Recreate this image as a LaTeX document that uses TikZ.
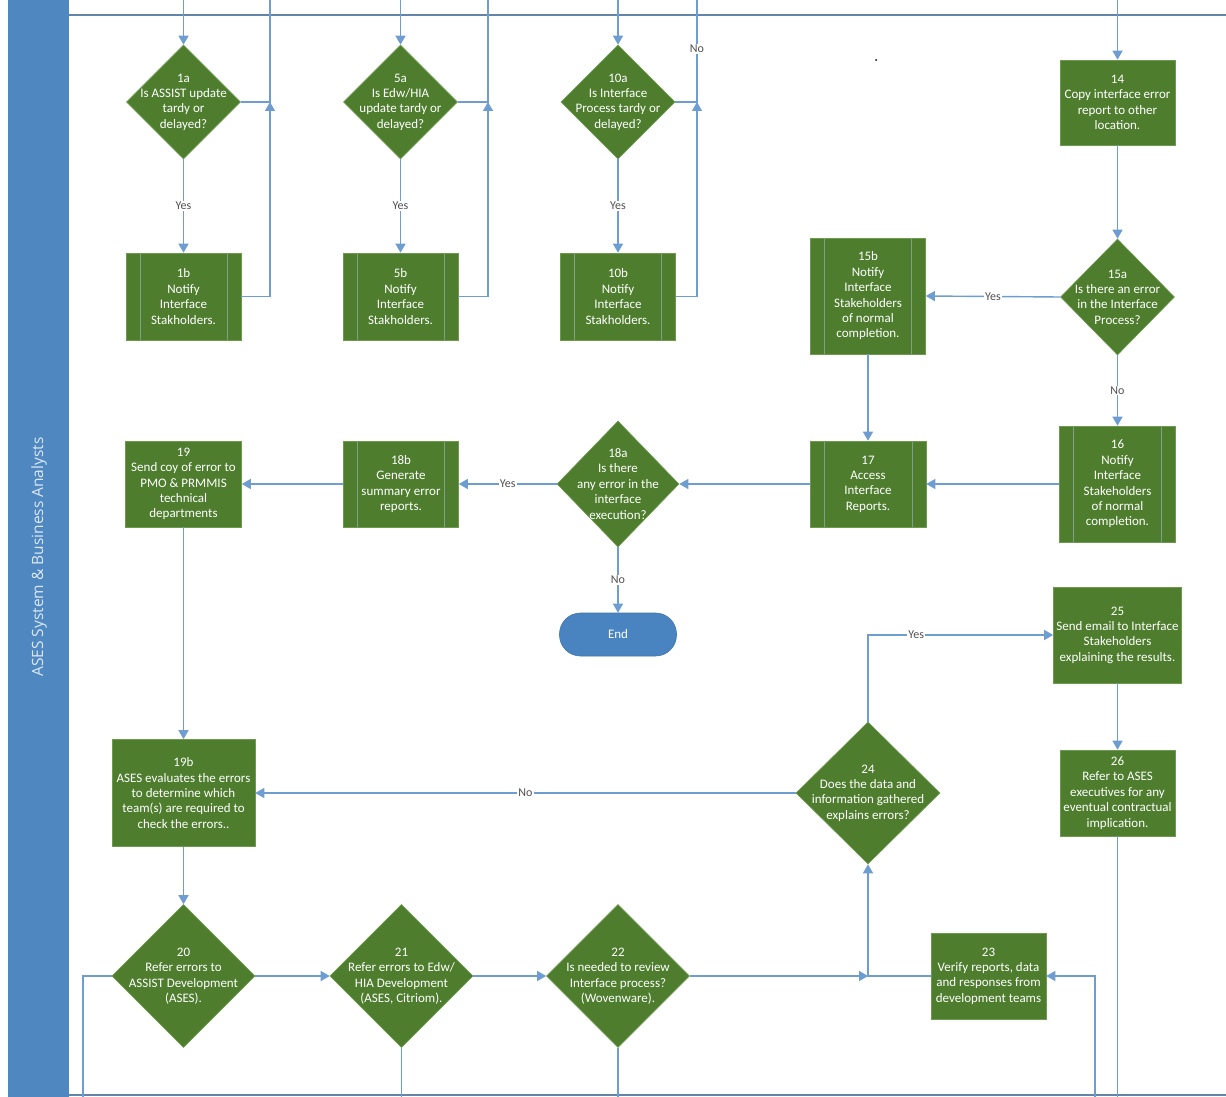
\documentclass[tikz,border=0pt]{standalone}
\usepackage{fontspec}
\newfontfamily\nf{Carlito}
\newfontfamily\lanefont{Open Sans}
\usetikzlibrary{shapes.geometric,arrows.meta}
\definecolor{gfill}{HTML}{4E7D2E}
\definecolor{gline}{HTML}{6E9A4E}
\definecolor{subl}{HTML}{7FA08A}
\definecolor{conn}{HTML}{6E9DD2}
\definecolor{lane}{HTML}{4F87C1}
\definecolor{laneline}{HTML}{6384AB}
\definecolor{lanetxt}{HTML}{DDE8F4}
\definecolor{lbl}{HTML}{505050}
\definecolor{endfill}{HTML}{4A84C0}
\definecolor{endline}{HTML}{3F74AD}
\tikzset{
  wire/.style={draw=conn, line width=1.4pt},
  arr/.style={wire, -{Triangle[width=10pt,length=9pt]}},
  ntext/.style={text=white, font=\nf\fontsize{13}{15.4}\selectfont, align=center},
  proc/.style={rectangle, fill=gfill, draw=gline, line width=0.6pt, inner sep=0pt, ntext},
  subproc/.style={proc, path picture={
      \draw[subl, line width=0.9pt]
        ([xshift=14pt]path picture bounding box.north west) -- ([xshift=14pt]path picture bounding box.south west)
        ([xshift=-14pt]path picture bounding box.north east) -- ([xshift=-14pt]path picture bounding box.south east);}},
  dia/.style={diamond, fill=gfill, draw=gline, line width=0.6pt, inner sep=0pt},
  lab/.style={fill=white, inner sep=1pt, text=lbl, font=\nf\fontsize{12}{13}\selectfont},
  endshape/.style={rectangle, rounded corners=21pt, fill=endfill, draw=endline, line width=0.6pt, text=white, font=\nf\fontsize{13}{15.4}\selectfont, inner sep=0pt}
}
\begin{document}
\begin{tikzpicture}[x=1pt,y=-1pt]
\useasboundingbox (0,0) rectangle (1226,1097);
\fill[white] (0,0) rectangle (1226,1097);
% lane
\fill[lane] (8,0) rectangle (69,1097);
\node[rotate=90, text=lanetxt, font=\lanefont\fontsize{15.5}{17}\selectfont] (lanelabel) at (39,557) {ASES System \& Business Analysts};
\draw[laneline, line width=1.8pt] (69,15) -- (1226,15);
\draw[laneline, line width=1.8pt] (69,1095) -- (1226,1095);
\fill[black] (876,60) circle (1pt);

% top row
\node[dia, minimum width=114pt, minimum height=114pt] (d1a) at (183.5,102) {};
\node[ntext] (d1at) at (d1a) {1a\\Is ASSIST update\\tardy or\\delayed?};
\node[subproc, minimum width=115pt, minimum height=87pt] (b1b) at (183.5,296.5) {1b\\Notify\\Interface\\Stakholders.};
\node[dia, minimum width=114pt, minimum height=114pt] (d5a) at (400.5,102) {};
\node[ntext] (d5at) at (d5a) {5a\\Is Edw/HIA\\update tardy or\\delayed?};
\node[subproc, minimum width=115pt, minimum height=87pt] (b5b) at (400.5,296.5) {5b\\Notify\\Interface\\Stakholders.};
\node[dia, minimum width=114pt, minimum height=114pt] (d10a) at (618,102) {};
\node[ntext] (d10at) at (d10a) {10a\\Is Interface\\Process tardy or\\delayed?};
\node[subproc, minimum width=115pt, minimum height=87pt] (b10b) at (618,296.5) {10b\\Notify\\Interface\\Stakholders.};
\node[proc, minimum width=115pt, minimum height=85pt] (b14) at (1117.5,102.5) {14\\Copy interface error\\report to other\\location.};
\node[dia, minimum width=114pt, minimum height=116pt] (d15a) at (1117.5,297) {};
\node[ntext] (d15at) at (d15a) {15a\\Is there an error\\in the Interface\\Process?};
\node[subproc, minimum width=115pt, minimum height=116pt] (b15b) at (868,296) {15b\\Notify\\Interface\\Stakeholders\\of normal\\completion.};

% middle row
\node[subproc, minimum width=116pt, minimum height=116pt] (b16) at (1117.5,484) {16\\Notify\\Interface\\Stakeholders\\of normal\\completion.};
\node[subproc, minimum width=116pt, minimum height=86pt] (b17) at (868,484) {17\\Access\\Interface\\Reports.};
\node[dia, minimum width=122pt, minimum height=126pt] (d18a) at (618,484) {};
\node[ntext] (d18at) at (d18a) {18a\\Is there\\any error in the\\interface\\execution?};
\node[subproc, minimum width=115pt, minimum height=86pt] (b18b) at (401,484) {18b\\Generate\\summary error\\reports.};
\node[proc, minimum width=116pt, minimum height=86pt] (b19) at (183.5,484) {19\\Send coy of error to\\PMO \& PRMMIS\\technical\\departments};
\node[endshape, minimum width=117pt, minimum height=43pt] (end) at (618,634.5) {End};
\node[proc, minimum width=128pt, minimum height=96pt] (b25) at (1117.5,635) {25\\Send email to Interface\\Stakeholders\\explaining the results.};

% lower rows
\node[proc, minimum width=143pt, minimum height=107pt] (b19b) at (183.5,793) {19b\\ASES evaluates the errors\\to determine which\\team(s) are required to\\check the errors..};
\node[dia, minimum width=144pt, minimum height=142pt] (d24) at (868,793) {};
\node[ntext] (d24t) at (d24) {24\\Does the data and\\information gathered\\explains errors?};
\node[proc, minimum width=115pt, minimum height=86pt] (b26) at (1117.5,793) {26\\Refer to ASES\\executives for any\\eventual contractual\\implication.};
\node[dia, minimum width=143pt, minimum height=143pt] (d20) at (183.5,976) {};
\node[ntext] (d20t) at (d20) {20\\Refer errors to\\ASSIST Development\\(ASES).};
\node[dia, minimum width=143pt, minimum height=143pt] (d21) at (401.5,976) {};
\node[ntext] (d21t) at (d21) {21\\Refer errors to Edw/\\HIA Development\\(ASES, Citriom).};
\node[dia, minimum width=143pt, minimum height=143pt] (d22) at (618,976) {};
\node[ntext] (d22t) at (d22) {22\\Is needed to review\\Interface process?\\(Wovenware).};
\node[proc, minimum width=115pt, minimum height=86pt] (b23) at (988.5,976) {23\\Verify reports, data\\and responses from\\development teams};

% coordinates
\coordinate (t1) at (183.5,0);
\coordinate (t1r) at (270,0);
\coordinate (t5) at (400.5,0);
\coordinate (t5r) at (488,0);
\coordinate (t10) at (618,0);
\coordinate (t10r) at (697,0);
\coordinate (t14) at (1117.5,0);
\coordinate (j1) at (270,102);
\coordinate (j5) at (488,102);
\coordinate (j10) at (697,102);
\coordinate (bot20) at (83,1097);
\coordinate (bot21) at (401.5,1097);
\coordinate (bot22) at (618,1097);
\coordinate (bot23) at (1095,1097);
\coordinate (bot26) at (1117.5,1097);
\coordinate (j24) at (868,976);

% connectors top
\draw[arr] (t1) -- (d1a.north);
\draw[wire] (d1a.east) -| (t1r);
\draw[arr] (b1b.east) -| (j1);
\draw[arr] (d1a.south) -- node[lab] (y1) {Yes} (b1b.north);
\draw[arr] (t5) -- (d5a.north);
\draw[wire] (d5a.east) -| (t5r);
\draw[arr] (b5b.east) -| (j5);
\draw[arr] (d5a.south) -- node[lab] (y5) {Yes} (b5b.north);
\draw[arr] (t10) -- (d10a.north);
\draw[wire] (d10a.east) -| node[lab, pos=0.76] (n10) {No} (t10r);
\draw[arr] (b10b.east) -| (j10);
\draw[arr] (d10a.south) -- node[lab] (y10) {Yes} (b10b.north);
\draw[arr] (t14) -- (b14.north);
\draw[arr] (b14.south) -- (d15a.north);
\draw[arr] (d15a.west) -- node[lab] (y15) {Yes} (b15b.east);
\draw[arr] (d15a.south) -- node[lab] (n15) {No} (b16.north);
\draw[arr] (b15b.south) -- (b17.north);
\draw[arr] (b16.west) -- (b17.east);
\draw[arr] (b17.west) -- (d18a.east);
\draw[arr] (d18a.west) -- node[lab] (y18) {Yes} (b18b.east);
\draw[arr] (d18a.south) -- node[lab] (n18) {No} (end.north);
\draw[arr] (b18b.west) -- (b19.east);
\draw[arr] (b19.south) -- (b19b.north);
\draw[arr] (b19b.south) -- (d20.north);
\draw[arr] (d24.west) -- node[lab] (n24) {No} (b19b.east);
\draw[arr] (d24.north) |- node[lab, pos=0.63] (y24) {Yes} (b25.west);
\draw[arr] (b25.south) -- (b26.north);
\draw[wire] (b26.south) -- (bot26);
\draw[arr] (d20.east) -- (d21.west);
\draw[arr] (d21.east) -- (d22.west);
\draw[wire] (d20.west) -| (bot20);
\draw[wire] (d21.south) -- (bot21);
\draw[wire] (d22.south) -- (bot22);
\draw[arr] (d22.east) -- (j24);
\draw[arr] (b23.west) -| (d24.south);
\draw[arr] (bot23) |- (b23.east);
\end{tikzpicture}
\end{document}
